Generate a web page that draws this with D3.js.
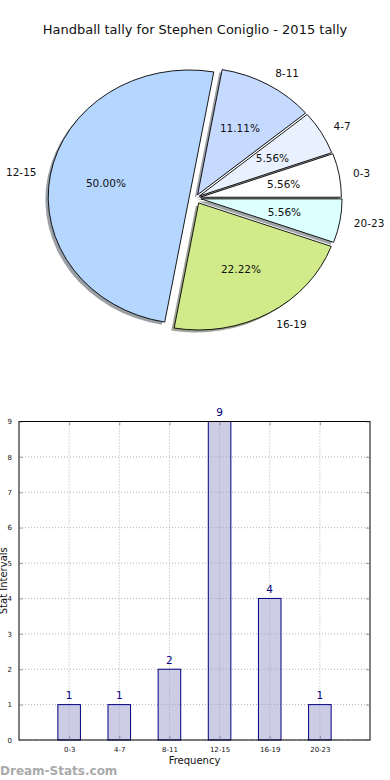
<!DOCTYPE html>
<html>
<head>
<meta charset="utf-8" />
<title>Handball tally</title>
<style>
html, body{
	margin: 0px;
	padding: 0px;
	background: #fff;
}
svg text{
	font-family: "DejaVu Sans", sans-serif;
}
</style>
</head>
<body>

<div id="chart"></div>

<script src="https://d3js.org/d3.v7.min.js"></script>

<script>

// data
var categories = ["0-3", "4-7", "8-11", "12-15", "16-19", "20-23"];
var values = [1, 1, 2, 9, 4, 1];
var yTicks = [0, 1, 2, 3, 4, 5, 6, 7, 8, 9];
var title = "Handball tally for Stephen Coniglio - 2015 tally";

var W = 390, H = 780;

var svg = d3.select("#chart").append("svg")
	.attr("width", W)
	.attr("height", H);

// ---- title
svg.append("text")
	.attr("x", 195)
	.attr("y", 34)
	.attr("text-anchor", "middle")
	.style("font-size", "13px")
	.attr("fill", "#111")
	.text(title);

// ---- pie (matplotlib style: start east, counter-clockwise, elliptical)
var cx = 195.5, cy = 198, rx = 141, ry = 127;
var colors = ["#ffffff", "#e9f1ff", "#c6d9ff", "#b5d6ff", "#d1eb8b", "#dcffff"];
var explode = [0.035, 0.03, 0.03, 0.045, 0.045, 0.04];
var total = d3.sum(values);

var pie = d3.pie().sort(null)
	.startAngle(Math.PI / 2)
	.endAngle(Math.PI / 2 - 2 * Math.PI);
var arcs = pie(values);

var arc = d3.arc().innerRadius(0).outerRadius(1);

function mid(d){ return (d.startAngle + d.endAngle) / 2; }
function off(d, i){
	var a = mid(d);
	return [explode[i] * rx * Math.sin(a), -explode[i] * ry * Math.cos(a)];
}

var pg = svg.append("g");

// shadows first
pg.selectAll("path.shadow")
	.data(arcs)
	.enter()
	.append("path")
		.attr("class", "shadow")
		.attr("d", arc)
		.attr("transform", function(d, i){
			var o = off(d, i);
			return "translate(" + (cx + o[0] - 0.02 * rx) + "," + (cy + o[1] + 0.02 * ry) + ") scale(" + rx + "," + ry + ")";
		})
		.attr("fill", function(d, i){
			var c = d3.rgb(colors[i]);
			return d3.rgb(c.r * 0.3, c.g * 0.3, c.b * 0.3);
		})
		.attr("opacity", 0.5);

pg.selectAll("path.wedge")
	.data(arcs)
	.enter()
	.append("path")
		.attr("class", "wedge")
		.attr("d", arc)
		.attr("transform", function(d, i){
			var o = off(d, i);
			return "translate(" + (cx + o[0]) + "," + (cy + o[1]) + ") scale(" + rx + "," + ry + ")";
		})
		.attr("fill", function(d, i){ return colors[i]; })
		.attr("stroke", "#000")
		.attr("stroke-width", 0.9)
		.attr("vector-effect", "non-scaling-stroke");

// category labels
pg.selectAll("text.lab")
	.data(arcs)
	.enter()
	.append("text")
		.attr("class", "lab")
		.attr("x", function(d, i){ return cx + off(d, i)[0] + 1.1 * rx * Math.sin(mid(d)); })
		.attr("y", function(d, i){ return cy + off(d, i)[1] - 1.1 * ry * Math.cos(mid(d)); })
		.attr("dy", "0.35em")
		.attr("text-anchor", function(d){ return Math.sin(mid(d)) < 0 ? "end" : "start"; })
		.style("font-size", "10.5px")
		.attr("fill", "#111")
		.text(function(d, i){ return categories[i]; });

// percent labels
pg.selectAll("text.pct")
	.data(arcs)
	.enter()
	.append("text")
		.attr("class", "pct")
		.attr("x", function(d, i){ return cx + off(d, i)[0] + 0.6 * rx * Math.sin(mid(d)); })
		.attr("y", function(d, i){ return cy + off(d, i)[1] - 0.6 * ry * Math.cos(mid(d)); })
		.attr("dy", "0.35em")
		.attr("text-anchor", "middle")
		.style("font-size", "10.5px")
		.attr("fill", "#111")
		.text(function(d){ return (d.value / total * 100).toFixed(2) + "%"; });

// ---- bar chart
var bLeft = 19, bRight = 370, bTop = 421.5, bBottom = 740;

var x = d3.scaleLinear().domain([-1, categories.length]).range([bLeft, bRight]);
var y = d3.scaleLinear().domain([0, 9]).range([bBottom, bTop]);

var bg = svg.append("g");

// grid
bg.selectAll("line.hgrid")
	.data(yTicks)
	.enter()
	.append("line")
		.attr("x1", bLeft).attr("x2", bRight)
		.attr("y1", function(d){ return y(d); })
		.attr("y2", function(d){ return y(d); })
		.attr("stroke", "#b3b3b3")
		.attr("stroke-dasharray", "1,2");

bg.selectAll("line.vgrid")
	.data(categories)
	.enter()
	.append("line")
		.attr("x1", function(d, i){ return x(i); })
		.attr("x2", function(d, i){ return x(i); })
		.attr("y1", bTop).attr("y2", bBottom)
		.attr("stroke", "#b3b3b3")
		.attr("stroke-dasharray", "1,2");

// bars
var bw = 0.45;
bg.selectAll("rect.bar")
	.data(values)
	.enter()
	.append("rect")
		.attr("class", "bar")
		.attr("x", function(d, i){ return x(i - bw / 2); })
		.attr("width", x(bw) - x(0))
		.attr("y", function(d){ return y(d); })
		.attr("height", function(d){ return y(0) - y(d); })
		.attr("fill", "#9999cc")
		.attr("fill-opacity", 0.5)
		.attr("stroke", "#000080")
		.attr("stroke-width", 1);

// value labels
bg.selectAll("text.val")
	.data(values)
	.enter()
	.append("text")
		.attr("class", "val")
		.attr("x", function(d, i){ return x(i); })
		.attr("y", function(d){ return y(d) - 5.5; })
		.attr("text-anchor", "middle")
		.style("font-size", "10.5px")
		.attr("fill", "#000080")
		.text(function(d){ return d; });

// axes frame
bg.append("rect")
	.attr("x", bLeft).attr("y", bTop)
	.attr("width", bRight - bLeft).attr("height", bBottom - bTop)
	.attr("fill", "none")
	.attr("stroke", "#000")
	.attr("stroke-width", 1);

// ticks (inward on all four sides)
var yAxis = d3.axisLeft(y).tickValues(yTicks).tickSizeInner(-4).tickSizeOuter(0).tickPadding(7);
var ya = bg.append("g").attr("transform", "translate(" + bLeft + ",0)").call(yAxis);
var yAxisR = d3.axisRight(y).tickValues(yTicks).tickSizeInner(-4).tickSizeOuter(0).tickFormat("");
var yr = bg.append("g").attr("transform", "translate(" + bRight + ",0)").call(yAxisR);

var xAxis = d3.axisBottom(x).tickValues(d3.range(categories.length))
	.tickFormat(function(i){ return categories[i]; })
	.tickSizeInner(-4).tickSizeOuter(0).tickPadding(7);
var xa = bg.append("g").attr("transform", "translate(0," + bBottom + ")").call(xAxis);
var xAxisT = d3.axisTop(x).tickValues(d3.range(categories.length)).tickSizeInner(-4).tickSizeOuter(0).tickFormat("");
var xt = bg.append("g").attr("transform", "translate(0," + bTop + ")").call(xAxisT);

[ya, yr, xa, xt].forEach(function(g){
	g.select(".domain").remove();
	g.selectAll(".tick line").attr("stroke", "#666").attr("stroke-width", 0.6);
	g.selectAll(".tick text")
		.style("font-family", "DejaVu Sans")
		.style("font-size", "7px")
		.attr("fill", "#111");
});

// axis titles
bg.append("text")
	.attr("x", (bLeft + bRight) / 2)
	.attr("y", 764)
	.attr("text-anchor", "middle")
	.style("font-size", "10px")
	.attr("fill", "#111")
	.text("Frequency");

bg.append("text")
	.attr("transform", "translate(7," + ((bTop + bBottom) / 2) + ") rotate(-90)")
	.attr("text-anchor", "middle")
	.style("font-size", "10px")
	.attr("fill", "#111")
	.text("Stat Intervals");

// watermark
svg.append("text")
	.attr("x", 0)
	.attr("y", 775)
	.style("font-size", "12px")
	.style("font-weight", "bold")
	.attr("fill", "#aaaaaa")
	.text("Dream-Stats.com");

</script>
</body>
</html>
